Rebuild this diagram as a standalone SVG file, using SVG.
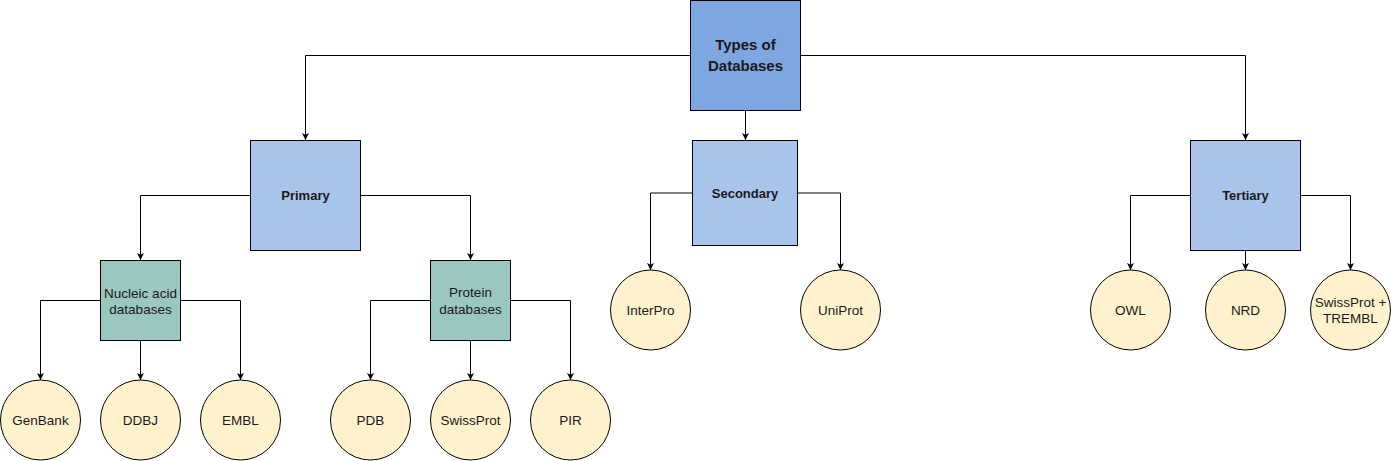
<svg xmlns="http://www.w3.org/2000/svg" width="1391" height="461" viewBox="0 0 1391 461">
<style>
.box{stroke:#000;stroke-width:1}
.top{fill:#7EA6E0}
.lvl{fill:#A9C4EB}
.grp{fill:#9AC7BF}
.leaf{fill:#FFF2CC;stroke:#000;stroke-width:1}
.e{fill:none;stroke:#000;stroke-width:1}
text{font-family:"Liberation Sans",Arial,sans-serif;fill:#1a1a1a;text-anchor:middle}
.b{font-weight:bold;font-size:13px}
.t{font-weight:bold;font-size:15px}
.r{font-size:13.5px}
</style>
<defs>
<marker id="arr" markerUnits="userSpaceOnUse" markerWidth="10" markerHeight="10" refX="7" refY="3.5" orient="auto">
<path d="M0,0 L7,3.5 L0,7 L1.75,3.5 z" fill="#000"/>
</marker>
</defs>
<g id="connectors">
<path class="e" marker-end="url(#arr)" d="M690.5,55.5 H305.5 V140"/>
<path class="e" marker-end="url(#arr)" d="M800.5,55.5 H1245.5 V140"/>
<path class="e" marker-end="url(#arr)" d="M745.5,110.5 V140"/>
<path class="e" marker-end="url(#arr)" d="M250.5,195.5 H140.5 V260"/>
<path class="e" marker-end="url(#arr)" d="M360.5,195.5 H470.5 V260"/>
<path class="e" marker-end="url(#arr)" d="M100.5,300.5 H40.5 V380"/>
<path class="e" marker-end="url(#arr)" d="M140.5,340.5 V380"/>
<path class="e" marker-end="url(#arr)" d="M180.5,300.5 H240.5 V380"/>
<path class="e" marker-end="url(#arr)" d="M430.5,300.5 H370.5 V380"/>
<path class="e" marker-end="url(#arr)" d="M470.5,340.5 V380"/>
<path class="e" marker-end="url(#arr)" d="M510.5,300.5 H570.5 V380"/>
<path class="e" marker-end="url(#arr)" d="M692.5,193 H650.5 V270"/>
<path class="e" marker-end="url(#arr)" d="M797.5,193 H840.5 V270"/>
<path class="e" marker-end="url(#arr)" d="M1190.5,195.5 H1130.5 V270"/>
<path class="e" marker-end="url(#arr)" d="M1245.5,250.5 V270"/>
<path class="e" marker-end="url(#arr)" d="M1300.5,195.5 H1350.5 V270"/>
</g>
<g id="types"><rect class="box top" x="690.5" y="0.5" width="110" height="110"/><text class="t" x="745.5" y="50">Types of</text><text class="t" x="745.5" y="70.5">Databases</text></g>
<g id="primary"><rect class="box lvl" x="250.5" y="140.5" width="110" height="110"/><text class="b" x="305.5" y="200">Primary</text></g>
<g id="secondary"><rect class="box lvl" x="692.5" y="140.5" width="105" height="105"/><text class="b" x="745" y="197.5">Secondary</text></g>
<g id="tertiary"><rect class="box lvl" x="1190.5" y="140.5" width="110" height="110"/><text class="b" x="1245.5" y="200">Tertiary</text></g>
<g id="nucleic"><rect class="box grp" x="100.5" y="260.5" width="80" height="80"/><text class="r" x="140.5" y="297.5">Nucleic acid</text><text class="r" x="140.5" y="313.5">databases</text></g>
<g id="protein"><rect class="box grp" x="430.5" y="260.5" width="80" height="80"/><text class="r" x="470.5" y="297">Protein</text><text class="r" x="470.5" y="313.5">databases</text></g>
<g id="genbank"><circle class="leaf" cx="40.5" cy="420" r="40"/><text class="r" x="40.5" y="425">GenBank</text></g>
<g id="ddbj"><circle class="leaf" cx="140.5" cy="420" r="40"/><text class="r" x="140.5" y="425">DDBJ</text></g>
<g id="embl"><circle class="leaf" cx="240.5" cy="420" r="40"/><text class="r" x="240.5" y="425">EMBL</text></g>
<g id="pdb"><circle class="leaf" cx="370.5" cy="420" r="40"/><text class="r" x="370.5" y="425">PDB</text></g>
<g id="swissprot"><circle class="leaf" cx="470.5" cy="420" r="40"/><text class="r" x="470.5" y="425">SwissProt</text></g>
<g id="pir"><circle class="leaf" cx="570.5" cy="420" r="40"/><text class="r" x="570.5" y="425">PIR</text></g>
<g id="interpro"><circle class="leaf" cx="650.5" cy="310" r="40"/><text class="r" x="650.5" y="315">InterPro</text></g>
<g id="uniprot"><circle class="leaf" cx="840.5" cy="310" r="40"/><text class="r" x="840.5" y="315">UniProt</text></g>
<g id="owl"><circle class="leaf" cx="1130.5" cy="310" r="40"/><text class="r" x="1130.5" y="315">OWL</text></g>
<g id="nrd"><circle class="leaf" cx="1245.5" cy="310" r="40"/><text class="r" x="1245.5" y="315">NRD</text></g>
<g id="swisstrembl"><circle class="leaf" cx="1350.5" cy="310" r="40"/><text class="r" x="1350.5" y="306.5">SwissProt +</text><text class="r" x="1350.5" y="323">TREMBL</text></g>
</svg>
